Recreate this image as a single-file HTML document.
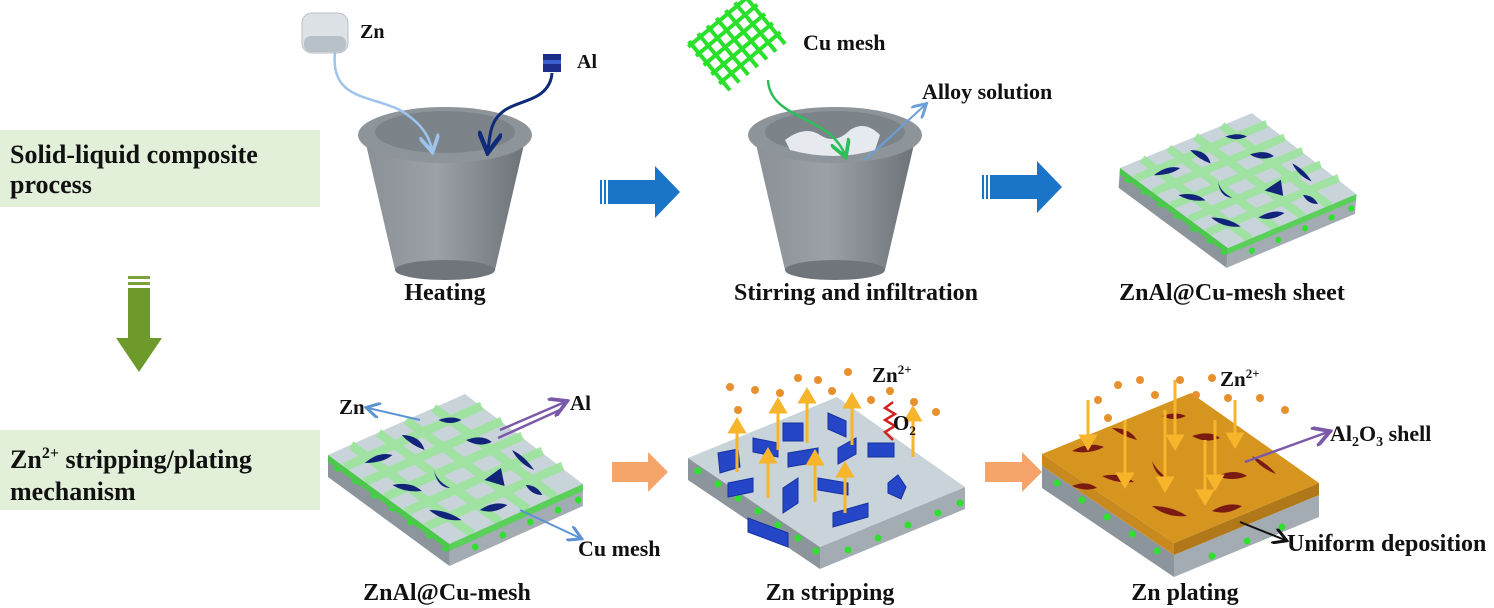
<!DOCTYPE html>
<html><head><meta charset="utf-8"><style>
html,body{margin:0;padding:0;background:#fff;width:1494px;height:608px;overflow:hidden}
svg{display:block}
text{font-family:"Liberation Serif",serif;font-weight:bold;fill:#111}
</style></head><body>
<svg width="1494" height="608" viewBox="0 0 1494 608" xmlns="http://www.w3.org/2000/svg">
<defs>
<linearGradient id="cup" x1="0" x2="1" y1="0" y2="0">
<stop offset="0" stop-color="#8a9096"/><stop offset="0.45" stop-color="#9aa1a7"/><stop offset="1" stop-color="#6c7278"/></linearGradient>
<g id="base">
<polygon points="0,0 132,89 132,111 0,22" fill="#8c959c"/>
<polygon points="132,89 277,29 277,51 132,111" fill="#a3acb2"/>
<g fill="#2fe02f">
<circle cx="10" cy="13" r="3.5"/><circle cx="30" cy="26" r="3.5"/><circle cx="50" cy="40" r="3.5"/><circle cx="70" cy="53" r="3.5"/><circle cx="90" cy="67" r="3.5"/><circle cx="110" cy="80" r="3.5"/><circle cx="128" cy="93" r="3.5"/>
<circle cx="160" cy="92" r="3.5"/><circle cx="190" cy="80" r="3.5"/><circle cx="220" cy="67" r="3.5"/><circle cx="250" cy="55" r="3.5"/><circle cx="272" cy="45" r="3.5"/></g>
<polygon points="0,0 149,-61 277,29 132,89" fill="#c9d3da"/>
</g>
<g id="band">
<polygon points="0,0 132,89 132,96 0,7" fill="#4cc84c"/>
<polygon points="132,89 277,29 277,36 132,96" fill="#5ad05a"/>
</g>
<g id="mesh" stroke="#9be49b" stroke-width="9" opacity="0.9">
<line x1="18" y1="12" x2="167" y2="-49"/><line x1="40" y1="27" x2="189" y2="-34"/><line x1="62" y1="42" x2="211" y2="-19"/><line x1="84" y1="57" x2="233" y2="-4"/><line x1="106" y1="72" x2="255" y2="11"/>
<line x1="25" y1="-10" x2="157" y2="79"/><line x1="55" y1="-22" x2="187" y2="67"/><line x1="85" y1="-35" x2="217" y2="54"/><line x1="115" y1="-47" x2="247" y2="42"/>
</g>
<g id="blobs" fill="#12247a">
<path d="M40,8 q15,-12 30,-8 q-10,8 -30,8z"/><path d="M80,-20 q20,0 25,15 q-15,-5 -25,-15z"/><path d="M120,-35 q15,-5 25,0 q-12,6 -25,0z"/>
<path d="M70,30 q20,-4 32,6 q-18,2 -32,-6z"/><path d="M115,15 q4,12 18,18 q-14,0 -18,-18z"/><path d="M150,-15 q18,-6 28,2 q-14,6 -28,-2z"/>
<path d="M110,55 q20,0 35,10 q-20,2 -35,-10z"/><path d="M170,25 l18,-12 l4,18z"/><path d="M200,-5 q14,6 24,20 q-16,-6 -24,-20z"/>
<path d="M215,30 q12,0 18,10 q-12,0 -18,-10z"/><path d="M165,55 q16,-10 30,-5 q-15,10 -30,5z"/>
</g>
<marker id="ab" markerWidth="8" markerHeight="8" refX="6" refY="4" orient="auto"><path d="M0,0 L7,4 L0,8" fill="none" stroke="context-stroke" stroke-width="1.5"/></marker>
</defs>

<rect x="0" y="130" width="320" height="77" fill="#e2efd9"/>
<text x="10" y="163" font-size="26">Solid-liquid composite</text>
<text x="10" y="193" font-size="26">process</text>
<rect x="0" y="430" width="320" height="80" fill="#e2efd9"/>
<text x="10" y="468" font-size="26">Zn<tspan font-size="16" dy="-10">2+</tspan><tspan dy="10"> stripping/plating</tspan></text>
<text x="10" y="500" font-size="26">mechanism</text>
<rect x="128" y="276" width="22" height="3" fill="#7aa23a"/><rect x="128" y="282" width="22" height="3" fill="#7aa23a"/>
<polygon points="128,288 150,288 150,338 162,338 139,372 116,338 128,338" fill="#6e9a2c"/>

<g id="cupA">
<path d="M365,140 L395,270 Q445,285 495,270 L525,140 Z" fill="url(#cup)"/>
<ellipse cx="445" cy="270" rx="50" ry="10" fill="#6f757b"/>
<ellipse cx="445" cy="135" rx="87" ry="28" fill="#8d949a"/>
<ellipse cx="445" cy="132" rx="70" ry="21" fill="#7c8389"/>
</g>
<use href="#cupA" x="390" y="0"/>
<path d="M785,140 q20,-15 35,-5 q15,10 30,-5 q15,-10 30,5 l-5,15 q-40,12 -85,0z" fill="#e6eaee"/>

<rect x="302" y="13" width="46" height="40" rx="10" fill="#dde2e7" stroke="#b7bec4"/>
<rect x="304" y="36" width="42" height="16" rx="7" fill="#b9c1c8"/>
<text x="360" y="38" font-size="20">Zn</text>
<rect x="543" y="54" width="18" height="18" fill="#1b2f8a"/><rect x="543" y="60" width="18" height="4" fill="#3d5fcf"/>
<text x="577" y="68" font-size="20">Al</text>
<path d="M335,52 C330,100 370,95 400,110 C425,125 430,140 432,150" stroke="#9cc4ec" stroke-width="2.5" fill="none" marker-end="url(#ab)"/>
<path d="M552,73 C550,100 520,100 505,110 C490,120 490,135 488,150" stroke="#0e2a78" stroke-width="3" fill="none" marker-end="url(#ab)"/>

<g transform="translate(740,40) rotate(-40)" stroke="#29e02a" stroke-width="4">
<line x1="-40" y1="-32" x2="-40" y2="32"/><line x1="-28" y1="-32" x2="-28" y2="32"/><line x1="-16" y1="-32" x2="-16" y2="32"/><line x1="-4" y1="-32" x2="-4" y2="32"/><line x1="8" y1="-32" x2="8" y2="32"/><line x1="20" y1="-32" x2="20" y2="32"/><line x1="32" y1="-32" x2="32" y2="32"/>
<line x1="-44" y1="-28" x2="36" y2="-28"/><line x1="-44" y1="-16" x2="36" y2="-16"/><line x1="-44" y1="-4" x2="36" y2="-4"/><line x1="-44" y1="8" x2="36" y2="8"/><line x1="-44" y1="20" x2="36" y2="20"/>
</g>
<text x="803" y="50" font-size="22">Cu mesh</text>
<text x="922" y="99" font-size="22">Alloy solution</text>
<path d="M768,80 C770,120 830,115 845,155" stroke="#2ebd5a" stroke-width="2.5" fill="none" marker-end="url(#ab)"/>
<path d="M865,160 L925,105" stroke="#6a9fd8" stroke-width="2" fill="none" marker-end="url(#ab)"/>

<g fill="#1a74c8">
<rect x="600" y="180" width="2" height="24"/><rect x="604" y="180" width="2" height="24"/>
<polygon points="608,180 655,180 655,166 680,192 655,218 655,204 608,204"/>
<rect x="982" y="175" width="2" height="24"/><rect x="986" y="175" width="2" height="24"/>
<polygon points="990,175 1037,175 1037,161 1062,187 1037,213 1037,199 990,199"/>
</g>
<polygon points="612,462 648,462 648,452 668,472 648,492 648,482 612,482" fill="#f6a56a"/>
<polygon points="985,462 1022,462 1022,452 1042,472 1022,492 1022,482 985,482" fill="#f6a56a"/>

<g transform="matrix(0.86,0,-0.0625,0.9,1120,168)">
<use href="#base"/><use href="#mesh"/><use href="#band"/><use href="#blobs"/>
</g>

<g transform="translate(328,455) scale(0.92,1)"><use href="#base"/><use href="#mesh"/><use href="#band"/><use href="#blobs"/></g>
<text x="339" y="414" font-size="21">Zn</text>
<path d="M420,420 L368,408" stroke="#5b93d3" stroke-width="2" marker-end="url(#ab)"/>
<text x="570" y="410" font-size="21">Al</text>
<path d="M500,430 L565,402" stroke="#7a5aa8" stroke-width="2.5" marker-end="url(#ab)"/>
<path d="M498,438 L560,410" stroke="#7a5aa8" stroke-width="2.5"/>
<text x="578" y="556" font-size="22">Cu mesh</text>
<path d="M520,510 L580,538" stroke="#5b93d3" stroke-width="2" marker-end="url(#ab)"/>

<g transform="translate(688,458)"><use href="#base"/>
<g fill="#2646c8" stroke="#1530a0" stroke-width="1">
<path d="M30,-5 l20,-4 l2,18 l-20,6z"/><path d="M65,-20 l25,5 l0,14 l-25,-5z"/><path d="M95,-35 l20,0 l0,18 l-20,0z"/><path d="M140,-45 l18,8 l0,16 l-18,-8z"/>
<path d="M100,-5 l30,-5 l0,14 l-30,5z"/><path d="M150,-10 l18,-10 l0,16 l-18,10z"/><path d="M180,-15 l26,0 l0,14 l-26,0z"/><path d="M40,25 l25,-5 l0,14 l-25,5z"/>
<path d="M130,20 l30,5 l0,12 l-30,-5z"/><path d="M200,25 l10,-8 l8,12 l-5,12 l-13,-6z"/><path d="M145,55 l35,-10 l0,14 l-35,10z"/><path d="M60,60 l40,15 l0,14 l-40,-15z"/>
<path d="M95,30 l15,-10 l0,25 l-15,10z"/></g>
<path d="M205,-18 l-8,-8 l10,-6 l-10,-6 l10,-6 l-10,-6 l8,-6" stroke="#d52020" stroke-width="2.5" fill="none"/>
</g>
<g stroke="#f6b52a" stroke-width="3" fill="#f6b52a">
<line x1="737" y1="472" x2="737" y2="430"/><polygon points="730,432 737,420 744,432"/>
<line x1="778" y1="450" x2="778" y2="410"/><polygon points="771,412 778,400 785,412"/>
<line x1="807" y1="443" x2="807" y2="400"/><polygon points="800,402 807,390 814,402"/>
<line x1="852" y1="445" x2="852" y2="405"/><polygon points="845,407 852,395 859,407"/>
<line x1="913" y1="457" x2="913" y2="418"/><polygon points="906,420 913,408 920,420"/>
<line x1="768" y1="498" x2="768" y2="460"/><polygon points="761,462 768,450 775,462"/>
<line x1="815" y1="502" x2="815" y2="462"/><polygon points="808,464 815,452 822,464"/>
<line x1="845" y1="513" x2="845" y2="474"/><polygon points="838,476 845,464 852,476"/>
</g>
<g fill="#e8902e">
<circle cx="730" cy="387" r="4"/><circle cx="755" cy="390" r="4"/><circle cx="780" cy="393" r="4"/><circle cx="798" cy="378" r="4"/><circle cx="818" cy="380" r="4"/><circle cx="848" cy="372" r="4"/><circle cx="832" cy="391" r="4"/><circle cx="890" cy="391" r="4"/><circle cx="914" cy="402" r="4"/><circle cx="936" cy="412" r="4"/><circle cx="871" cy="400" r="4"/><circle cx="738" cy="410" r="4"/></g>
<text x="872" y="382" font-size="21">Zn<tspan font-size="13" dy="-8">2+</tspan></text>
<text x="893" y="430" font-size="21">O<tspan font-size="13" dy="5">2</tspan></text>

<g transform="translate(1042,466)">
<polygon points="0,0 132,89 132,111 0,22" fill="#8c959c"/>
<polygon points="132,89 277,29 277,51 132,111" fill="#a3acb2"/>
<g fill="#2fe02f"><circle cx="15" cy="17" r="3.5"/><circle cx="40" cy="34" r="3.5"/><circle cx="65" cy="51" r="3.5"/><circle cx="90" cy="68" r="3.5"/><circle cx="115" cy="85" r="3.5"/><circle cx="170" cy="90" r="3.5"/><circle cx="205" cy="75" r="3.5"/><circle cx="240" cy="61" r="3.5"/></g>
<polygon points="0,-12 132,77 132,89 0,0" fill="#c88a1e"/>
<polygon points="132,77 277,17 277,29 132,89" fill="#b07818"/>
<polygon points="0,-12 149,-73 277,17 132,77" fill="#d6951f"/>
<g fill="#7a1a12">
<path d="M30,-15 q18,-10 32,-4 q-15,8 -32,4z"/><path d="M70,-38 q18,0 25,12 q-15,-4 -25,-12z"/><path d="M120,-50 q14,-5 24,0 q-12,6 -24,0z"/>
<path d="M60,10 q20,-4 32,6 q-18,2 -32,-6z"/><path d="M110,-5 q6,12 18,18 q-14,0 -18,-18z"/><path d="M150,-30 q18,-6 28,2 q-14,6 -28,-2z"/>
<path d="M110,40 q20,0 35,10 q-20,2 -35,-10z"/><path d="M175,10 q18,-8 30,0 q-15,6 -30,0z"/><path d="M210,-10 q14,6 24,18 q-16,-6 -24,-18z"/><path d="M170,45 q16,-10 30,-5 q-15,10 -30,5z"/><path d="M30,20 q15,-6 25,2 q-12,4 -25,-2z"/></g>
</g>
<g stroke="#f6b52a" stroke-width="3" fill="#f6b52a">
<line x1="1088" y1="400" x2="1088" y2="440"/><polygon points="1081,436 1088,448 1095,436"/>
<line x1="1125" y1="420" x2="1125" y2="478"/><polygon points="1118,474 1125,486 1132,474"/>
<line x1="1165" y1="410" x2="1165" y2="482"/><polygon points="1158,478 1165,490 1172,478"/>
<line x1="1175" y1="380" x2="1175" y2="440"/><polygon points="1168,436 1175,448 1182,436"/>
<line x1="1205" y1="440" x2="1205" y2="495"/><polygon points="1198,491 1205,503 1212,491"/>
<line x1="1215" y1="420" x2="1215" y2="480"/><polygon points="1208,476 1215,488 1222,476"/>
<line x1="1235" y1="400" x2="1235" y2="438"/><polygon points="1228,434 1235,446 1242,434"/></g>
<g fill="#e8902e">
<circle cx="1098" cy="400" r="4"/><circle cx="1118" cy="385" r="4"/><circle cx="1140" cy="380" r="4"/><circle cx="1155" cy="395" r="4"/><circle cx="1180" cy="380" r="4"/><circle cx="1196" cy="395" r="4"/><circle cx="1212" cy="378" r="4"/><circle cx="1228" cy="398" r="4"/><circle cx="1260" cy="398" r="4"/><circle cx="1285" cy="410" r="4"/><circle cx="1108" cy="418" r="4"/></g>
<text x="1220" y="386" font-size="21">Zn<tspan font-size="13" dy="-8">2+</tspan></text>
<path d="M1245,462 L1328,432" stroke="#7a5aa8" stroke-width="2.5" marker-end="url(#ab)"/>
<text x="1330" y="441" font-size="22">Al<tspan font-size="14" dy="5">2</tspan><tspan dy="-5">O</tspan><tspan font-size="14" dy="5">3</tspan><tspan dy="-5"> shell</tspan></text>
<path d="M1240,522 L1285,540" stroke="#111" stroke-width="2" marker-end="url(#ab)"/>
<text x="1287" y="551" font-size="24">Uniform deposition</text>

<g font-size="24" text-anchor="middle">
<text x="445" y="300">Heating</text>
<text x="856" y="300">Stirring and infiltration</text>
<text x="1232" y="300">ZnAl@Cu-mesh sheet</text>
<text x="447" y="600">ZnAl@Cu-mesh</text>
<text x="830" y="600">Zn stripping</text>
<text x="1185" y="600">Zn plating</text>
</g>
</svg>
</body></html>
